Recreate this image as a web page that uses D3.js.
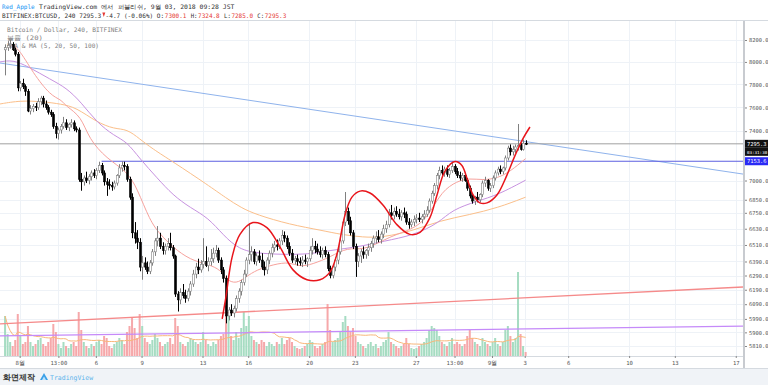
<!DOCTYPE html>
<html><head><meta charset="utf-8">
<script src="https://cdn.jsdelivr.net/npm/d3@7"></script>
<style>
body{margin:0;background:#fff;overflow:hidden}
svg{display:block}
text{font-family:"DejaVu Sans Mono",monospace}
</style>
</head><body>
<svg id="c" width="768" height="385"></svg>
<script>
// ---------- DATA (4h candles, BTCUSD Bitfinex) ----------
const open=[8110,8130,8150,8160,8110,8070,7770,7810,7780,7740,
7570,7590,7610,7600,7650,7680,7630,7600,7560,7540,
7440,7380,7410,7440,7470,7430,7455,7470,7420,7410,
7010,6990,7020,7000,7030,7060,7040,7080,7120,7060,
6990,6970,6960,6950,6980,7040,7100,7120,7110,7010,
6870,6600,6560,6530,6350,6380,6350,6320,6380,6460,
6540,6560,6500,6470,6500,6520,6490,6430,6160,6120,
6170,6150,6130,6180,6230,6300,6350,6330,6370,6390,
6360,6390,6410,6450,6470,6400,6330,6270,6010,6050,
6030,6060,6130,6180,6240,6300,6400,6440,6460,6390,
6430,6400,6350,6330,6400,6450,6490,6510,6500,6540,
6580,6560,6500,6450,6400,6410,6390,6380,6400,6390,
6410,6470,6500,6480,6460,6440,6470,6440,6340,6290,
6350,6400,6460,6540,6680,6760,6690,6600,6500,6390,
6430,6460,6440,6470,6490,6520,6560,6570,6550,6590,
6630,6660,6750,6730,6760,6740,6720,6750,6740,6680,
6660,6680,6700,6710,6700,6720,6740,6770,6840,6900,
6960,7040,7080,7060,7090,7050,7080,7110,7070,7040,
7020,7040,7000,6940,6880,6840,6870,6850,6890,6980,
7000,6940,6960,7020,7060,7090,7070,7100,7180,7260,
7230,7250,7270,7280,7250,7300.1];
const high=[8160,8190,8200,8180,8130,8090,7830,7850,7800,7760,
7620,7630,7640,7680,7700,7700,7660,7620,7580,7560,
7470,7430,7460,7520,7500,7470,7500,7490,7440,7430,
7060,7040,7070,7050,7080,7090,7100,7150,7140,7080,
7020,7010,6990,7000,7050,7130,7153,7150,7130,7030,
6900,6680,6620,6560,6430,6420,6390,6400,6480,6560,
6650,6600,6530,6520,6560,6600,6510,6440,6180,6200,
6230,6190,6200,6250,6330,6380,6410,6400,6560,6500,
6420,6480,6490,6510,6490,6420,6350,6290,6070,6090,
6080,6150,6200,6260,6330,6420,6670,6500,6480,6450,
6470,6450,6390,6420,6470,6520,6540,6550,6560,6620,
6610,6580,6530,6480,6430,6440,6420,6430,6440,6420,
6500,6560,6540,6520,6500,6490,6500,6460,6360,6370,
6420,6480,6560,6700,6910,6790,6720,6620,6520,6450,
6480,6500,6480,6520,6540,6580,6610,6620,6610,6660,
6690,6780,6810,6790,6800,6780,6770,6790,6760,6710,
6700,6730,6740,6750,6740,6770,6800,6860,6920,6980,
7060,7110,7120,7110,7120,7100,7150,7130,7100,7070,
7060,7060,7020,6960,6900,6880,6910,6900,7000,7030,
7010,6980,7040,7080,7110,7120,7110,7200,7280,7290,
7280,7290,7460,7300,7330,7324.8];
const low=[7880,8100,8120,8100,8050,7740,7740,7760,7700,7560,
7540,7560,7570,7580,7620,7600,7580,7540,7520,7420,
7340,7330,7380,7420,7410,7400,7430,7400,7390,6990,
6920,6960,6980,6970,7000,7020,7010,7060,7040,6960,
6880,6930,6920,6930,6960,7020,7070,7080,6990,6850,
6560,6520,6480,6320,6260,6330,6300,6300,6360,6430,
6500,6480,6440,6440,6470,6470,6410,6140,6040,6090,
6130,6100,6110,6150,6210,6270,6300,6310,6340,6350,
6320,6360,6380,6420,6380,6300,6240,5960,5980,6010,
6000,6040,6100,6150,6220,6280,6370,6390,6370,6360,
6380,6330,6290,6300,6370,6420,6460,6470,6480,6510,
6530,6480,6430,6380,6370,6360,6360,6350,6370,6350,
6390,6440,6450,6440,6420,6410,6420,6320,6270,6270,
6320,6370,6440,6520,6650,6660,6580,6480,6280,6350,
6380,6410,6410,6430,6460,6490,6520,6530,6520,6560,
6600,6640,6700,6700,6720,6700,6690,6710,6660,6630,
6640,6650,6670,6680,6670,6700,6720,6750,6820,6880,
6930,7010,7040,7030,7030,7020,7060,7050,7020,7000,
6990,6990,6920,6860,6820,6810,6830,6830,6870,6950,
6920,6910,6940,7000,7040,7050,7050,7080,7160,7200,
7200,7220,7240,7240,7240,7285];
const close=[8130,8150,8160,8110,8070,7770,7810,7780,7740,7570,
7590,7610,7600,7650,7680,7630,7600,7560,7540,7440,
7380,7410,7440,7470,7430,7455,7470,7420,7410,7010,
6990,7020,7000,7030,7060,7040,7080,7120,7060,6990,
6970,6960,6950,6980,7040,7100,7120,7110,7010,6870,
6600,6560,6530,6350,6380,6350,6320,6380,6460,6540,
6560,6500,6470,6500,6520,6490,6430,6160,6120,6170,
6150,6130,6180,6230,6300,6350,6330,6370,6390,6360,
6390,6410,6450,6470,6400,6330,6270,6010,6050,6030,
6060,6130,6180,6240,6300,6400,6440,6460,6390,6430,
6400,6350,6330,6400,6450,6490,6510,6500,6540,6580,
6560,6500,6450,6400,6410,6390,6380,6400,6390,6410,
6470,6500,6480,6460,6440,6470,6440,6340,6290,6350,
6400,6460,6540,6680,6760,6690,6600,6500,6390,6430,
6460,6440,6470,6490,6520,6560,6570,6550,6590,6630,
6660,6750,6730,6760,6740,6720,6750,6740,6680,6660,
6680,6700,6710,6700,6720,6740,6770,6840,6900,6960,
7040,7080,7060,7090,7050,7080,7110,7070,7040,7020,
7040,7000,6940,6880,6840,6870,6850,6890,6980,7000,
6940,6960,7020,7060,7090,7070,7100,7180,7260,7230,
7250,7270,7280,7250,7300,7295.3];
const volume=[40,22,14,10,16,42,20,12,14,30,
14,10,12,16,18,12,10,14,18,32,
24,12,8,14,10,8,12,14,10,44,
26,14,10,8,12,10,14,16,12,20,
18,10,8,12,14,18,16,12,24,30,
38,28,18,42,30,18,14,12,16,22,
18,14,10,12,14,18,12,38,30,14,
12,10,14,18,16,14,12,14,24,16,
12,10,14,12,16,20,22,58,40,20,
16,24,18,28,44,30,40,20,16,14,
12,16,14,10,14,12,10,14,12,18,
12,16,18,14,10,8,7,8,10,12,
16,14,10,8,10,12,14,52,26,14,
16,18,24,34,40,30,24,28,20,14,
12,10,8,12,14,10,12,8,10,14,
16,24,14,12,10,8,10,12,18,12,
8,7,8,10,12,14,18,26,30,28,
26,20,14,12,10,14,18,12,14,12,
10,12,20,26,18,14,12,10,18,14,
12,10,14,18,12,10,14,26,30,20,
14,18,84,22,10,4];

// moving averages (candle index, price)
const maRedIdx=[2,5,11,18,22,24,30,33,40,48,52,57,61,66,73,80,85,87,91,95,99,106,112,116,121,128,135,141,149,154,162,167,172,178,183,188,194,199,205];
const maRedVal=[8150,8140,7900,7700,7670,7610,7525,7336,7175,7073,6940,6690,6590,6494,6400,6370,6330,6260,6230,6281,6330,6370,6387,6351,6370,6422,6494,6470,6545,6588,6639,6735,6917,6995,7018,7003,7018,7073,7175];
const maPurpleIdx=[-2,3,9,18,24,30,36,43,48,53,60,66,73,80,86,92,100,119,128,139,149,161,171,176,186,194,205];
const maPurpleVal=[8000,8019,7960,7842,7772,7644,7476,7361,7312,7175,7018,6887,6788,6713,6581,6479,6444,6437,6472,6494,6538,6581,6676,6773,6840,6887,7003];
const maOrangeIdx=[-2,6,15,22,28,36,43,48,53,58,66,80,87,93,99,112,125,132,141,149,161,171,183,194,205];
const maOrangeVal=[7630,7660,7650,7630,7600,7476,7418,7418,7336,7255,7151,6963,6864,6788,6736,6662,6617,6588,6566,6566,6617,6690,6736,6788,6870];

// hand-drawn red wave (candle index, price)
const waveIdx=[85.5,87,89.4,92.5,97.6,103.1,108.3,113.4,118.9,124,128,130.7,133.9,136.6,139.8,143.7,148.8,154.3,159.4,163.4,167.3,170.1,173.2,177.2,179.9,181.9,184.3,187,189.8,193.7,197.6,200.8,203.9,206.7];
const waveVal=[5990,6143,6422,6588,6676,6639,6494,6330,6260,6260,6316,6444,6736,6870,6917,6902,6810,6661,6588,6603,6713,6887,7073,7151,7120,7018,6887,6826,6826,6887,7041,7199,7336,7435];

// trend lines [idx, price]
const blueTrend=[[-2,7990],[290.6,7051]];
const redTrend=[[-2,5956],[290.6,6209]];
const purpleTrend=[[-2,5876],[290.6,5942]];
const supportLine=[[38,7153.6],[290.6,7153.6]];
const lastPrice=7295.3;

const priceTicks=[8200,8000,7800,7600,7400,7000,6850,6750,6630,6510,6390,6290,6190,6090,5990,5900,5810];
const dayTickLabels=["8월","13:00","6","9","13","16","20","23","27","13:00","9월","3","6","10","13","17"];
const dayTickDays=[0,2+13/24,5,8,12,15,19,22,26,28+13/24,31,33.15,36,40,43,47];

// ---------- LAYOUT ----------
const W=768,H=385;
const plotL=0,plotR=743,plotT=21,plotB=356;
const svg=d3.select("#c");
const x=d3.scaleLinear().domain([-2,290.6]).range([plotL,plotR]);
const y=d3.scaleLog().domain([5810,8200]).range([346,40]);
const vy=d3.scaleLinear().domain([0,84]).range([plotB,272]);
const dayToIdx=d=>5.75+6*d;
const U=3.7; // monospace unit width

svg.append("rect").attr("width",W).attr("height",H).attr("fill","#fff");

// header (each segment placed on a monospace grid)
function seg(x0,yy,t,col,units){
  svg.append("text").attr("x",x0).attr("y",yy).attr("font-size",6.1).attr("fill",col)
   .attr("textLength",units*U-0.6).attr("lengthAdjust","spacingAndGlyphs").text(t);
}
seg(2,9,"Red_Apple","#2196f3",9);
seg(2+10*U,9,"TradingView.com 에서 퍼블리쉬, 9월 03, 2018 09:28 JST","#333",53);
let cx=2;
[["BITFINEX:BTCUSD, 240 7295.3","#333"],["▼","#e53935"],["-4.7 (-0.06%) O:","#333"],["7300.1","#e53935"],[" H:","#333"],["7324.8","#e53935"],[" L:","#333"],["7285.0","#e53935"],[" C:","#333"],["7295.3","#e53935"]]
 .forEach(([t,c])=>{
   if(t==="▼"){
     svg.append("path").attr("d",`M${cx+0.4},12.5 L${cx+3.4},12.5 L${cx+1.9},17 Z`).attr("fill",c);
   } else {
     const lead=t.startsWith(" ")?1:0;
     seg(cx+lead*U,18,t.trim(),c,t.length-lead);
   }
   cx+=t.length*U;
 });

// clip for plot
svg.append("clipPath").attr("id","pc").append("rect").attr("x",plotL).attr("y",plotT).attr("width",plotR-plotL).attr("height",plotB-plotT);
const g=svg.append("g").attr("clip-path","url(#pc)");

// grid
g.selectAll(".hg").data(priceTicks).join("line").attr("x1",plotL).attr("x2",plotR)
 .attr("y1",d=>Math.round(y(d))+0.5).attr("y2",d=>Math.round(y(d))+0.5).attr("stroke","#eef2f7").attr("stroke-width",1);
g.selectAll(".vg").data(dayTickDays).join("line").attr("y1",plotT).attr("y2",plotB)
 .attr("x1",d=>Math.round(x(dayToIdx(d)))+0.5).attr("x2",d=>Math.round(x(dayToIdx(d)))+0.5).attr("stroke","#eef2f7");

// legend text
[["Bitcoin / Dollar, 240, BITFINEX",32,115],["볼륨 (20)",40,36],["EMA & MA (5, 20, 50, 100)",48,92]].forEach(([t,yy,len])=>{
  g.append("text").attr("x",7).attr("y",yy).attr("font-size",6.2).attr("fill","#808080").attr("textLength",len).attr("lengthAdjust","spacingAndGlyphs").text(t);
});

// volume
const idx=d3.range(close.length);
g.selectAll(".vol").data(idx).join("rect")
 .attr("x",i=>x(i)-1).attr("width",2)
 .attr("y",i=>vy(volume[i])).attr("height",i=>plotB-vy(volume[i]))
 .attr("fill",i=>close[i]>=open[i]?"#a6dcc2":"#f6a8aa");
// volume MA 20
const vma=idx.map(i=>d3.mean(volume.slice(Math.max(0,i-19),i+1)));
g.append("path").datum(idx).attr("fill","none").attr("stroke","#f9b77a").attr("stroke-width",1)
 .attr("d",d3.line().x(i=>x(i)).y(i=>vy(vma[i])));

// trend lines
const ln=d3.line().x(d=>x(d[0])).y(d=>y(d[1]));
g.append("path").datum(blueTrend).attr("d",ln).attr("stroke","#8fb3ec").attr("stroke-width",1).attr("fill","none");
g.append("path").datum(redTrend).attr("d",ln).attr("stroke","#f58a8a").attr("stroke-width",1.3).attr("fill","none");
g.append("path").datum(purpleTrend).attr("d",ln).attr("stroke","#c58af9").attr("stroke-width",1.3).attr("fill","none");
g.append("path").datum(supportLine).attr("d",ln).attr("stroke","#5c5fe0").attr("stroke-width",1.2).attr("fill","none");
g.append("line").attr("x1",plotL).attr("x2",plotR).attr("y1",y(lastPrice)).attr("y2",y(lastPrice)).attr("stroke","#a0a0a0").attr("stroke-width",1);

// moving averages
const maLine=d3.line().curve(d3.curveBasis);
function drawMA(ix,vals,col){
  g.append("path").datum(ix.map((d,k)=>[x(d),y(vals[k])])).attr("d",maLine).attr("fill","none").attr("stroke",col).attr("stroke-width",1);
}
drawMA(maOrangeIdx,maOrangeVal,"#fbbf8a");
drawMA(maPurpleIdx,maPurpleVal,"#c792e0");
drawMA(maRedIdx,maRedVal,"#f6a29d");

// candles
const cg=g.append("g");
cg.selectAll(".wick").data(idx).join("line")
 .attr("x1",i=>Math.round(x(i))+0.5).attr("x2",i=>Math.round(x(i))+0.5)
 .attr("y1",i=>y(high[i])).attr("y2",i=>y(low[i]))
 .attr("stroke",i=>close[i]>=open[i]?"#808080":"#000").attr("stroke-width",1);
cg.selectAll(".body").data(idx).join("rect")
 .attr("x",i=>Math.round(x(i))-0.5).attr("width",2)
 .attr("y",i=>y(Math.max(open[i],close[i])))
 .attr("height",i=>Math.max(1,Math.abs(y(open[i])-y(close[i]))))
 .attr("fill",i=>close[i]>=open[i]?"#fff":"#000")
 .attr("stroke",i=>close[i]>=open[i]?"#808080":"#000").attr("stroke-width",0.6);

// red wave
g.append("path").datum(waveIdx.map((d,k)=>[x(d),y(waveVal[k])]))
 .attr("d",d3.line().curve(d3.curveCatmullRom.alpha(0.5))).attr("fill","none").attr("stroke","#e8151b").attr("stroke-width",1.5);

// frame
svg.append("line").attr("x1",0).attr("x2",W).attr("y1",plotT-0.5).attr("y2",plotT-0.5).attr("stroke","#d5dae0");
svg.append("line").attr("x1",plotR+1).attr("x2",plotR+1).attr("y1",plotT).attr("y2",368).attr("stroke","#c8cbd0").attr("stroke-width",2);
svg.append("line").attr("x1",0).attr("x2",plotR).attr("y1",plotB+0.5).attr("y2",plotB+0.5).attr("stroke","#d5dae0");

// right axis
const ra=svg.append("g").attr("transform",`translate(${plotR+2},0)`)
 .call(d3.axisRight(y).tickValues(priceTicks).tickFormat(d3.format(".1f")).tickSize(2).tickPadding(2));
ra.select(".domain").remove();
ra.selectAll("text").attr("font-size",5.4).attr("fill","#555").attr("font-family","DejaVu Sans Mono");
ra.selectAll("line").attr("stroke","#888");

// price labels
function tag(py,txt,bg,h,fs){
  svg.append("rect").attr("x",plotR+2).attr("y",py-h/2).attr("width",W-plotR-2).attr("height",h).attr("fill",bg);
  svg.append("text").attr("x",plotR+4).attr("y",py+2).attr("font-size",fs).attr("fill","#fff").text(txt);
}
tag(y(lastPrice),"7295.3","#111",8,5.4);
tag(y(lastPrice)+8,"03:31:30","#111",8,4.2);
tag(y(7153.6),"7153.6","#2a2af5",8,5.4);

// bottom axis
const ba=svg.append("g").attr("transform",`translate(0,${plotB})`)
 .call(d3.axisBottom(x).tickValues(dayTickDays.map(dayToIdx)).tickFormat((d,k)=>dayTickLabels[k]).tickSize(2).tickPadding(3));
ba.select(".domain").remove();
ba.selectAll("text").attr("font-size",5.6).attr("fill","#555").attr("font-family","DejaVu Sans Mono, Noto Sans CJK KR");
ba.selectAll("line").attr("stroke","#888");

// footer
svg.append("rect").attr("x",0).attr("y",369).attr("width",W).attr("height",16).attr("fill","#f0f3f7");
svg.append("line").attr("x1",0).attr("x2",W).attr("y1",368.5).attr("y2",368.5).attr("stroke","#d5dae0");
svg.append("text").attr("x",3).attr("y",380).attr("font-size",8).attr("font-weight","bold").attr("fill","#333").attr("font-family","Noto Sans CJK KR").text("화면제작");
const logo=svg.append("g").attr("transform","translate(40,373)");
logo.append("path").attr("d","M0,7 L4,0 L8,7 Z").attr("fill","#3aa0e8");
logo.append("path").attr("d","M2,7 L4,3.5 L6,7 Z").attr("fill","#bfe3fb");
svg.append("text").attr("x",50).attr("y",380).attr("font-size",6.5).attr("fill","#5db4ec").text("TradingView");
</script>
</body></html>
